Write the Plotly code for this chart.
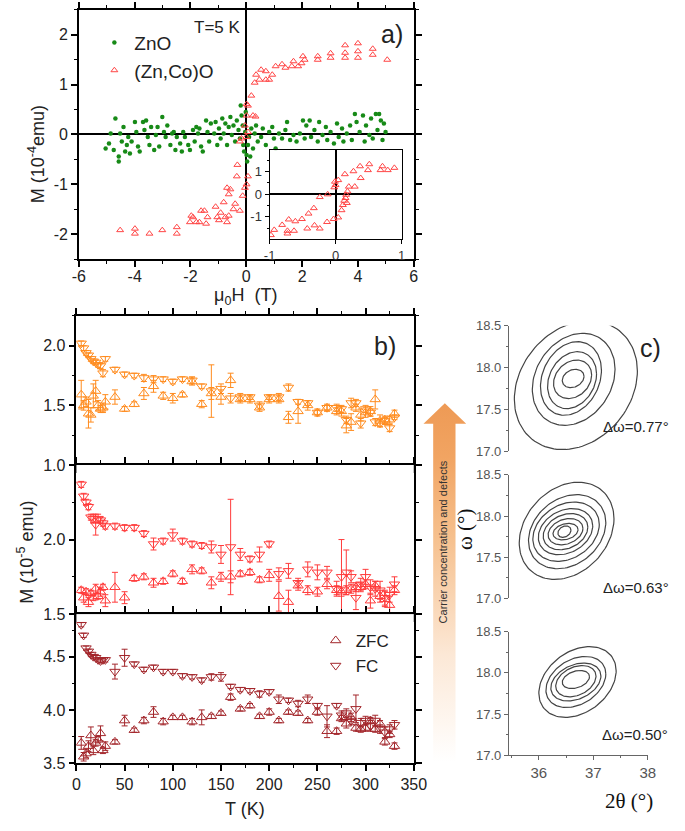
import numpy as np
import plotly.graph_objects as go

W, H = 685, 831
FONT = "Liberation Sans, Arial, sans-serif"

# ---------------- panel a: M(H) at T = 5 K ----------------
zno_h = [-5.04, -4.92, -4.86, -4.75, -4.69, -4.57, -4.57, -4.52, -4.46, -4.40, -4.34, -4.28,
         -4.23, -4.17, -4.11, -3.99, -3.94, -3.88, -3.82, -3.70, -3.65, -3.59, -3.53, -3.47,
         -3.41, -3.30, -3.24, -3.18, -3.12, -3.01, -2.95, -2.89, -2.83, -2.72, -2.66, -2.60,
         -2.54, -2.49, -2.37, -2.31, -2.26, -2.20, -2.08, -2.02, -1.91, -1.85, -1.79, -1.73,
         -1.68, -1.62, -1.56, -1.44, -1.39, -1.33, -1.27, -1.15, -1.10, -1.04, -0.98, -0.92,
         -0.86, -0.81, -0.75, -0.69, -0.63, -0.57, -0.52, -0.46, -0.40, -0.34, -0.28, -0.23,
         -0.20, -0.17, -0.13, -0.11, -0.08, -0.04, -0.02, 0.01, 0.03, 0.06, 0.10, 0.14, 0.18,
         0.24, 0.30, 0.35, 0.41, 0.53, 0.59, 0.70, 0.82, 0.93, 0.99, 1.05, 1.17, 1.28, 1.40,
         1.46, 1.57, 1.69, 1.80, 1.92, 2.03, 2.09, 2.15, 2.27, 2.32, 2.44, 2.56, 2.61, 2.73,
         2.85, 2.90, 3.02, 3.14, 3.25, 3.31, 3.43, 3.48, 3.60, 3.72, 3.78, 3.89, 3.95, 4.06,
         4.18, 4.24, 4.29, 4.41, 4.47, 4.53, 4.64, 4.70, 4.76, 4.82, 4.88, 4.93, 4.99]
zno_m = [-0.28, -0.18, 0.02, -0.31, 0.32, -0.44, -0.54, 0.02, -0.14, 0.15, -0.34, -0.21,
         -0.05, -0.38, -0.14, 0.25, 0.05, -0.24, -0.34, 0.25, 0.09, 0.28, -0.05, -0.21,
         0.15, -0.31, -0.01, 0.15, -0.24, 0.35, 0.05, -0.05, 0.18, -0.21, 0.02, 0.05,
         -0.31, -0.05, -0.18, -0.34, 0.05, -0.05, -0.21, -0.31, 0.09, -0.14, 0.15, 0.02,
         0.12, -0.24, -0.34, 0.28, 0.05, -0.14, 0.22, 0.02, 0.25, -0.21, 0.12, -0.08,
         0.32, 0.02, 0.22, -0.21, 0.15, 0.35, -0.01, 0.18, -0.14, 0.28, 0.09, -0.08,
         0.58, 0.38, 0.18, -0.21, -0.34, 0.05, 0.45, -0.41, -0.54, -0.21, -0.05, -0.44, 0.12,
         -0.28, 0.02, 0.18, -0.14, -0.05, 0.12, -0.21, 0.05, 0.15, -0.08, -0.28, 0.02, -0.08, 0.09,
         0.25, -0.11, -0.01, -0.14, 0.02, 0.28, -0.08, 0.18, 0.28, -0.05, 0.09, -0.14, 0.25, -0.01,
         0.15, -0.11, 0.05, -0.18, 0.22, -0.05, 0.12, -0.14, 0.02, 0.18, -0.11, 0.41, 0.25, 0.05,
         0.38, -0.14, 0.18, -0.01, 0.32, -0.08, 0.41, 0.09, 0.41, 0.28, -0.11, 0.22, 0.05]

znco_h = [5.05, 4.53, 4.53, 4.00, 4.00, 4.00, 3.54, 3.54, 3.54, 3.02, 3.02, 2.56, 2.56,
          2.03, 2.09, 1.98, 1.86, 1.69, 1.63, 1.40, 1.28, 1.05, 0.93, 0.82, 0.70, 0.70,
          0.53, 0.47, 0.35, 0.30, 0.18, 0.06, 0.01, 0.24, 0.33, 0.01, -0.05, 0.06, 0.00,
          -4.52, -3.99, -3.99, -3.47, -3.01, -2.49, -2.49, -2.02, -1.97, -1.91, -1.79, -1.68,
          -1.62, -1.50, -1.44, -1.39, -1.10, -1.04, -0.92, -0.98, -0.81, -0.75, -0.69, -0.63,
          -0.69, -0.57, -0.63, -0.46, -0.40, -0.34, -0.32, -0.23, -0.13, -0.05, 0.01, 0.06,
          -0.17, -0.23]
znco_m = [1.50, 1.72, 1.60, 1.83, 1.67, 1.54, 1.79, 1.64, 1.54, 1.63, 1.54, 1.57, 1.50,
          1.57, 1.50, 1.43, 1.37, 1.47, 1.37, 1.34, 1.41, 1.37, 1.20, 1.10, 1.27, 1.10,
          1.30, 1.10, 1.20, 1.04, 0.78, 0.58, 0.61, 0.38, 0.36, 0.38, 0.18, 0.05, -0.05,
          -1.92, -1.89, -1.99, -1.99, -1.92, -1.86, -1.99, -1.76, -1.63, -1.66, -1.76, -1.76,
          -1.53, -1.53, -1.79, -1.66, -1.45, -1.66, -1.57, -1.72, -1.36, -1.66, -1.76, -1.63,
          -1.07, -1.10, -1.20, -1.50, -1.39, -0.84, -0.61, -1.53, -1.23, -1.07, -1.00, -0.84,
          -0.08, -0.14]

inset_h = [-0.98, -0.93, -0.81, -0.71, -0.73, -0.73, -0.63, -0.61, -0.51, -0.43, -0.41,
           -0.33, -0.32, -0.24, -0.24, -0.13, -0.12, -0.03, -0.02, -0.01, 0.00, 0.04, 0.04,
           0.09, 0.11, 0.13, 0.15, 0.16, 0.18, 0.20, 0.14, 0.17, 0.27, 0.29, 0.38, 0.37,
           0.49, 0.51, 0.68, 0.71, 0.79, 0.89]
inset_m = [-1.81, -1.58, -1.36, -1.12, -1.62, -1.74, -1.62, -1.20, -1.10, -1.52, -0.86,
           -0.62, -1.38, -1.52, -0.13, -1.23, -0.01, -1.10, 0.30, 0.55, 0.40, 0.62, -1.03,
           -0.71, -0.48, -0.29, -0.17, -0.03, 0.12, 0.33, 0.88, -0.39, 1.01, 0.33, 0.71, 1.23,
           1.06, 1.32, 1.06, 1.23, 1.06, 1.16]

# ---------------- panel b: ZFC / FC M(T) ----------------
temp_k = [5, 7.5, 10, 12.5, 15, 17.5, 20, 22.5, 25, 27.5, 30,
          40, 50, 60, 70, 80, 90, 100, 110, 120, 130, 140, 150, 160,
          170, 180, 190, 200, 210, 220, 230, 240, 250,
          260, 270, 275, 280, 285, 290, 295, 300, 305, 310, 315, 320, 325, 330]

top_fc = [2.02, 1.98, 1.94, 1.92, 1.89, 1.87, 1.86, 1.84, 1.83, 1.77, 1.89,
          1.80, 1.76, 1.75, 1.73, 1.72, 1.72, 1.70, 1.72, 1.71, 1.66, 1.62, 1.64, 1.56,
          1.57, 1.57, 1.50, 1.57, 1.57, 1.65, 1.53, 1.52, 1.44,
          1.48, 1.48, 1.47, 1.38, 1.52, 1.52, 1.35, 1.47, 1.44, 1.36, 1.35, 1.37, 1.31, 1.40]
top_fc_err = [0.02, 0.02, 0.02, 0.02, 0.02, 0.02, 0.02, 0.02, 0.02, 0.03, 0.02,
              0.02, 0.02, 0.02, 0.03, 0.03, 0.02, 0.02, 0.02, 0.03, 0.02, 0.22, 0.04, 0.04,
              0.03, 0.02, 0.03, 0.02, 0.03, 0.03, 0.02, 0.02, 0.02,
              0.02, 0.03, 0.03, 0.03, 0.04, 0.03, 0.04, 0.03, 0.03, 0.03, 0.03, 0.03, 0.03, 0.02]
top_zfc = [1.59, 1.50, 1.53, 1.43, 1.42, 1.58, 1.62, 1.50, 1.47, 1.48, 1.53,
           1.57, 1.47, 1.51, 1.60, 1.66, 1.58, 1.56, 1.59, 1.70, 1.51, 1.60, 1.57, 1.71,
           1.55, 1.55, 1.48, 1.55, 1.55, 1.40, 1.45, 1.50, 1.44,
           1.48, 1.45, 1.45, 1.33, 1.36, 1.48, 1.42, 1.44, 1.45, 1.55, 1.37, 1.38, 1.38, 1.43]
top_zfc_err = [0.12, 0.04, 0.04, 0.12, 0.06, 0.10, 0.09, 0.04, 0.03, 0.04, 0.06,
               0.06, 0.02, 0.02, 0.05, 0.05, 0.03, 0.04, 0.02, 0.03, 0.03, 0.05, 0.06, 0.06,
               0.03, 0.03, 0.03, 0.03, 0.03, 0.05, 0.10, 0.04, 0.03,
               0.03, 0.03, 0.04, 0.06, 0.07, 0.03, 0.05, 0.04, 0.04, 0.08, 0.05, 0.03, 0.03, 0.03]

mid_fc = [2.37, 2.29, 2.25, 2.22, 2.15, 2.14, 2.10, 2.14, 2.13, 2.11, 2.09,
          2.09, 2.08, 2.08, 2.04, 1.97, 1.99, 2.03, 1.99, 1.97, 1.96, 1.95, 1.90, 1.95,
          1.90, 1.87, 1.90, 1.97, 1.77, 1.79, 1.71, 1.80, 1.78,
          1.78, 1.67, 1.75, 1.78, 1.75, 1.61, 1.70, 1.75, 1.68, 1.67, 1.66, 1.61, 1.63, 1.70]
mid_fc_err = [0.02, 0.02, 0.02, 0.02, 0.02, 0.03, 0.07, 0.03, 0.02, 0.02, 0.02,
              0.02, 0.02, 0.02, 0.02, 0.04, 0.02, 0.04, 0.02, 0.02, 0.02, 0.04, 0.06, 0.32,
              0.04, 0.02, 0.05, 0.02, 0.04, 0.05, 0.03, 0.05, 0.05,
              0.04, 0.05, 0.25, 0.15, 0.04, 0.08, 0.04, 0.05, 0.05, 0.05, 0.06, 0.05, 0.05, 0.05]
mid_zfc = [1.66, 1.61, 1.65, 1.58, 1.64, 1.61, 1.67, 1.62, 1.65, 1.68, 1.59,
           1.68, 1.61, 1.74, 1.75, 1.71, 1.72, 1.77, 1.72, 1.80, 1.79, 1.71, 1.75, 1.75,
           1.77, 1.78, 1.73, 1.76, 1.62, 1.58, 1.69, 1.66, 1.65,
           1.70, 1.66, 1.65, 1.66, 1.67, 1.68, 1.68, 1.70, 1.59, 1.69, 1.62, 1.60, 1.56, 1.66]
mid_zfc_err = [0.02, 0.03, 0.02, 0.03, 0.02, 0.02, 0.03, 0.02, 0.03, 0.02, 0.04,
               0.10, 0.04, 0.02, 0.02, 0.03, 0.02, 0.02, 0.02, 0.03, 0.02, 0.04, 0.03, 0.04,
               0.02, 0.02, 0.02, 0.04, 0.10, 0.08, 0.03, 0.03, 0.03,
               0.03, 0.03, 0.03, 0.03, 0.03, 0.03, 0.03, 0.03, 0.05, 0.03, 0.04, 0.05, 0.06, 0.03]

bot_fc = [4.80, 4.70, 4.58, 4.55, 4.52, 4.50, 4.49, 4.47, 4.46, 4.47, 4.47,
          4.36, 4.49, 4.43, 4.38, 4.40, 4.36, 4.36, 4.32, 4.31, 4.28, 4.31, 4.31, 4.22,
          4.19, 4.18, 4.15, 4.17, 4.10, 4.09, 4.06, 4.10, 4.04,
          3.94, 4.04, 3.95, 3.97, 3.90, 4.01, 3.88, 3.90, 3.85, 3.90, 3.82, 3.79, 3.82, 3.86]
bot_fc_err = [0.02, 0.02, 0.02, 0.02, 0.02, 0.02, 0.02, 0.02, 0.02, 0.02, 0.02,
              0.07, 0.08, 0.02, 0.02, 0.02, 0.02, 0.02, 0.02, 0.02, 0.02, 0.03, 0.04, 0.02,
              0.02, 0.02, 0.03, 0.02, 0.04, 0.02, 0.03, 0.04, 0.02,
              0.10, 0.02, 0.04, 0.04, 0.04, 0.13, 0.04, 0.04, 0.05, 0.05, 0.04, 0.05, 0.04, 0.04]
bot_zfc = [3.69, 3.56, 3.59, 3.66, 3.76, 3.62, 3.69, 3.72, 3.78, 3.62, 3.66,
           3.70, 3.90, 3.81, 3.90, 3.98, 3.89, 3.93, 3.93, 3.89, 3.93, 3.94, 3.97, 4.12,
           4.01, 4.04, 3.94, 3.98, 3.90, 3.98, 3.97, 3.90, 3.98,
           3.80, 3.80, 3.92, 3.87, 3.93, 3.83, 3.82, 3.83, 3.90, 3.82, 3.87, 3.70, 3.77, 3.66]
bot_zfc_err = [0.06, 0.04, 0.04, 0.05, 0.08, 0.04, 0.03, 0.03, 0.07, 0.03, 0.04,
               0.02, 0.05, 0.02, 0.03, 0.05, 0.03, 0.02, 0.02, 0.03, 0.07, 0.02, 0.02, 0.03,
               0.02, 0.02, 0.02, 0.03, 0.02, 0.02, 0.02, 0.02, 0.03,
               0.06, 0.03, 0.03, 0.04, 0.04, 0.03, 0.03, 0.03, 0.03, 0.03, 0.03, 0.03, 0.03, 0.03]

# ---------------- panel c: rocking-curve contour rings ----------------
# each ring: centre (2theta, omega), half-width in 2theta, half-height in omega
c_top = dict(cx=[36.68, 36.64, 36.59, 36.61, 36.62, 36.63],
             cy=[17.79, 17.86, 17.87, 17.85, 17.86, 17.87],
             rx=[1.13, 0.76, 0.56, 0.45, 0.35, 0.20],
             ry=[0.77, 0.55, 0.44, 0.34, 0.23, 0.11])
c_mid = dict(cx=[36.51, 36.52, 36.50, 36.49, 36.49, 36.49, 36.49, 36.47],
             cy=[17.82, 17.81, 17.81, 17.81, 17.81, 17.81, 17.81, 17.81],
             rx=[0.87, 0.71, 0.61, 0.50, 0.41, 0.32, 0.23, 0.12],
             ry=[0.59, 0.45, 0.36, 0.28, 0.22, 0.16, 0.10, 0.07])
c_bot = dict(cx=[36.71, 36.68, 36.68, 36.68, 36.68],
             cy=[17.89, 17.89, 17.89, 17.90, 17.92],
             rx=[0.71, 0.55, 0.46, 0.37, 0.25],
             ry=[0.43, 0.31, 0.23, 0.19, 0.11])
ring_tilt = [0.22, 0.25, 0.32]
c_labels = ["\u0394\u03c9=0.77\u00b0", "\u0394\u03c9=0.63\u00b0", "\u0394\u03c9=0.50\u00b0"]

ORANGE = "#FF8C1F"
RED = "#FF3B3B"
BROWN = "#A3262B"
GREEN = "#178A17"
ZNCO = "#FF4545"


def fx(px):
    return px / W


def fy(py):
    return 1 - py / H


fig = go.Figure()

# canvas axis (xy) for the gradient arrow between panels b and c
arrow_x = [439, 439, 429, 451, 473, 462, 462, 439]
arrow_y = [H - 770, H - 425, H - 425, H - 404, H - 425, H - 425, H - 770, H - 770]
fig.add_trace(go.Scatter(
    x=arrow_x, y=arrow_y, mode="lines", fill="toself", line=dict(width=0),
    fillgradient=dict(type="vertical",
                      colorscale=[[0, "rgba(255,255,255,1)"], [0.3, "#FCE8D6"],
                                  [0.62, "#F6C18F"], [0.85, "#F1A462"], [1, "#EE9A55"]]),
    hoverinfo="skip", showlegend=False, xaxis="x", yaxis="y"))

# panel a
fig.add_trace(go.Scatter(x=zno_h, y=zno_m, mode="markers", name="ZnO",
                         marker=dict(color=GREEN, size=4.5), xaxis="x2", yaxis="y2",
                         legend="legend"))
fig.add_trace(go.Scatter(x=znco_h, y=znco_m, mode="markers", name="(Zn,Co)O",
                         marker=dict(symbol="triangle-up-open", color=ZNCO, size=6,
                                     line=dict(width=1)),
                         xaxis="x2", yaxis="y2", legend="legend"))
fig.add_trace(go.Scatter(x=inset_h, y=inset_m, mode="markers", showlegend=False,
                         marker=dict(symbol="triangle-up-open", color=ZNCO, size=6,
                                     line=dict(width=1)),
                         xaxis="x3", yaxis="y3"))

# panel b
series_b = [
    ("4", "4", top_zfc, top_zfc_err, top_fc, top_fc_err, ORANGE, False),
    ("5", "5", mid_zfc, mid_zfc_err, mid_fc, mid_fc_err, RED, False),
    ("6", "6", bot_zfc, bot_zfc_err, bot_fc, bot_fc_err, BROWN, True),
]
for xa, ya, zfc, zfc_err, fc, fc_err, col, show in series_b:
    for name, vals, errs, sym in (("ZFC", zfc, zfc_err, "triangle-up-open"),
                                  ("FC", fc, fc_err, "triangle-down-open")):
        fig.add_trace(go.Scatter(
            x=temp_k, y=vals, mode="markers", name=name, showlegend=show,
            legend="legend2",
            marker=dict(symbol=sym, color=col, size=9, line=dict(width=1)),
            error_y=dict(type="data", array=errs, color=col, thickness=1, width=3),
            xaxis="x" + xa, yaxis="y" + ya))

# panel c rings
t = np.linspace(0, 2 * np.pi, 121)
for idx, rings, tilt in zip(("7", "8", "9"), (c_top, c_mid, c_bot), ring_tilt):
    for cx, cy, rx, ry in zip(rings["cx"], rings["cy"], rings["rx"], rings["ry"]):
        fig.add_trace(go.Scatter(
            x=cx + rx * np.cos(t), y=cy + ry * np.sin(t + tilt), mode="lines",
            line=dict(color="#444444", width=1.2), showlegend=False, hoverinfo="skip",
            xaxis="x" + idx, yaxis="y" + idx))

# ---------------- axes ----------------
black = dict(showline=True, linecolor="black", linewidth=1.5, ticks="outside",
             tickcolor="black", tickwidth=1.5, ticklen=6, showgrid=False, zeroline=False,
             tickfont=dict(family=FONT, size=16, color="#222"))
minor_b = dict(ticks="outside", ticklen=3, tickwidth=1.2, tickcolor="black")

layout = dict(
    width=W, height=H, margin=dict(l=0, r=0, t=0, b=0),
    paper_bgcolor="white", plot_bgcolor="white",
    font=dict(family=FONT, color="#222"),
    xaxis=dict(domain=[0, 1], range=[0, W], visible=False, fixedrange=True),
    yaxis=dict(domain=[0, 1], range=[0, H], visible=False, fixedrange=True),
    # panel a main
    xaxis2=dict(black, domain=[fx(74), fx(419)], anchor="y2", range=[-6, 6], mirror="ticks",
                tickvals=[-6, -4, -2, 0, 2, 4, 6], ticktext=["-6", "-4", "-2", "0", "2", "4", "6"],
                ticklabelstandoff=-4,
                minor=dict(minor_b, dtick=1), zeroline=True, zerolinecolor="black",
                zerolinewidth=1.5),
    yaxis2=dict(black, domain=[fy(257), fy(3)], anchor="x2", range=[-2.5, 2.5], mirror="ticks",
                tickvals=[-2, -1, 0, 1, 2], ticktext=["-2", "-1", "0", "1", "2"],
                minor=dict(minor_b, dtick=0.5), zeroline=True, zerolinecolor="black",
                zerolinewidth=1.5),
    # inset
    xaxis3=dict(black, domain=[fx(270.5), fx(406.5)], anchor="y3", range=[-1, 1], mirror=True,
                linewidth=1.2, ticklen=4, tickwidth=1,
                tickvals=[-1, 0, 1], ticktext=["-1", "0", "1"],
                tickfont=dict(family=FONT, size=13, color="#333"),
                zeroline=True, zerolinecolor="black", zerolinewidth=1.5),
    yaxis3=dict(black, domain=[fy(236.5), fy(146)], anchor="x3", range=[-1.98, 1.94], mirror=True,
                linewidth=1.2, ticklen=4, tickwidth=1,
                tickvals=[-1, 0, 1], ticktext=["-1", "0", "1"],
                tickfont=dict(family=FONT, size=13, color="#333"),
                minor=dict(ticks="outside", ticklen=2, tickcolor="black", dtick=0.5),
                zeroline=True, zerolinecolor="black", zerolinewidth=1.5),
)

b_rows = [("4", 467, 315, [1.0, 2.25], [1.0, 1.5, 2.0]),
          ("5", 619, 467, [1.5, 2.5], [1.5, 2.0]),
          ("6", 771, 619, [3.5, 4.9], [3.5, 4.0, 4.5])]
for idx, pb, pt, yr, tv in b_rows:
    layout["xaxis" + idx] = dict(black, domain=[fx(71.5), fx(419)], anchor="y" + idx,
                                 range=[0, 350], mirror="ticks",
                                 tickvals=list(range(0, 351, 50)),
                                 showticklabels=(idx == "6"),
                                 minor=dict(minor_b, dtick=25))
    layout["yaxis" + idx] = dict(black, domain=[fy(pb), fy(pt)], anchor="x" + idx,
                                 range=yr, mirror="ticks", tickvals=tv,
                                 ticktext=["%.1f" % v for v in tv],
                                 minor=dict(minor_b, dtick=0.25))

c_rows = [("7", 453, 325), ("8", 603, 477), ("9", 763, 637)]
for idx, pb, pt in c_rows:
    is_bottom = idx == "9"
    layout["xaxis" + idx] = dict(domain=[fx(517), fx(660)], anchor="y" + idx,
                                 range=[35.45, 38], visible=is_bottom, showgrid=False,
                                 zeroline=False, showline=True, linecolor="#666",
                                 linewidth=1, ticks="outside", ticklen=4, tickcolor="#666",
                                 tickvals=[36, 37, 38],
                                 minor=dict(ticks="outside", ticklen=2, tickcolor="#666",
                                            dtick=0.5),
                                 tickfont=dict(family=FONT, size=15, color="#555"))
    layout["yaxis" + idx] = dict(domain=[fy(pb), fy(pt)], anchor="x" + idx,
                                 range=[17.0, 18.5], showgrid=False, zeroline=False,
                                 showline=True, linecolor="#666", linewidth=1,
                                 ticks="outside", ticklen=4, tickcolor="#666",
                                 tickvals=[17.0, 17.5, 18.0, 18.5],
                                 ticktext=["17.0", "17.5", "18.0", "18.5"],
                                 minor=dict(ticks="outside", ticklen=2, tickcolor="#666",
                                            dtick=0.25),
                                 tickfont=dict(family=FONT, size=13, color="#555"))

layout["legend"] = dict(x=fx(90), y=fy(17), xanchor="left", yanchor="top",
                        bgcolor="rgba(0,0,0,0)", font=dict(family=FONT, size=19, color="#222"),
                        itemwidth=30, tracegroupgap=0)
layout["legend2"] = dict(x=fx(318), y=fy(628), xanchor="left", yanchor="top",
                         bgcolor="rgba(0,0,0,0)", font=dict(family=FONT, size=17, color="#222"),
                         itemwidth=30, tracegroupgap=0)


def note(px, py, text, size, angle=0, family=FONT, color="#222"):
    return dict(x=fx(px), y=fy(py), xref="paper", yref="paper", text=text, showarrow=False,
                textangle=angle, xanchor="center", yanchor="middle",
                font=dict(family=family, size=size, color=color))


SERIF = "Liberation Serif, Times New Roman, serif"
annotations = [
    note(216, 21, "T=5 K", 17),
    note(397, 28, "a)", 25),
    note(30, 150, "M (10<sup>-4</sup>emu)", 18, angle=-90),
    note(246, 295, "\u03bc<sub>0</sub>H  (T)", 18),
    note(389, 346, "b)", 25),
    note(19, 556, "M (10<sup>-5</sup> emu)", 18, angle=-90),
    note(245, 818, "T (K)", 18),
    note(663, 348, "c)", 25),
    note(449, 545, "Carrier concentration and defects", 11, angle=-90, color="#333"),
    note(472, 533, "\u03c9 (\u00b0)", 21, angle=-90, family=SERIF, color="#111"),
    note(641, 810, "2\u03b8 (\u00b0)", 21, family=SERIF, color="#111"),
    note(648, 428, c_labels[0], 15),
    note(648, 592, c_labels[1], 15),
    note(647, 742, c_labels[2], 15),
]
layout["annotations"] = annotations

fig.update_layout(**layout)
# the page keeps the browser's default body margin; drop it so the figure fills the window
fig.write_html("out.html", config={"displayModeBar": False},
               post_script="document.body.style.margin='0';document.body.style.overflow='hidden';")
